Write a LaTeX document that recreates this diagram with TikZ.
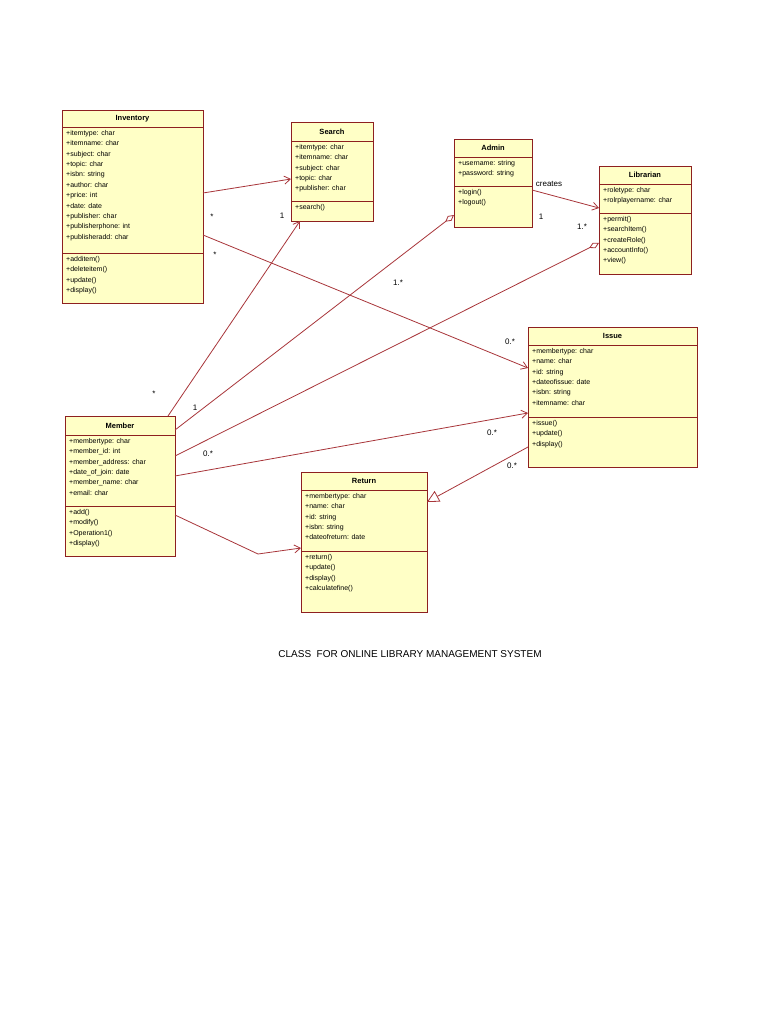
\documentclass[tikz,border=0pt]{standalone}
\usepackage{fontspec}
\setmainfont{Liberation Sans}
\usetikzlibrary{arrows.meta}
\definecolor{boxfill}{HTML}{FFFFC6}
\definecolor{boxline}{HTML}{8E2020}
\definecolor{conn}{HTML}{A8353A}
\tikzset{
  cls/.style={draw=boxline,fill=boxfill,line width=0.9pt},
  sep/.style={draw=boxline,line width=0.9pt},
  ttl/.style={font=\fontsize{7.5}{9}\selectfont\bfseries,anchor=center},
  txt/.style={font=\fontsize{7}{10.4}\selectfont,anchor=north west,align=left,inner sep=0pt},
  lbl/.style={font=\fontsize{8}{9}\selectfont,inner sep=0pt},
  assoc/.style={draw=conn,line width=0.8pt,-{Straight Barb[length=6pt,width=8pt]}},
  aggr/.style={draw=conn,line width=0.8pt,-{Diamond[open,length=11pt,width=6pt,fill=white]}},
  gen/.style={draw=conn,line width=0.8pt,-{Triangle[open,length=12pt,width=12pt,fill=white]}}
}
\newcommand{\umlbox}[8]{% name, x1,y1,x2,y2, ytitle, yattr, title
  \path[cls] (#2,#3) rectangle (#4,#5);
  \draw[sep] (#2,#6) -- (#4,#6);
  \draw[sep] (#2,#7) -- (#4,#7);
  \node[ttl] (#1) at ({(#2+#4)/2},{(#3+#6)/2}) {#8};
  \coordinate (#1-a) at (#2+4,#6+3);
  \coordinate (#1-m) at (#2+4,#7+3);
}
\begin{document}
\begin{tikzpicture}[x=1pt,y=-1pt]
\useasboundingbox[fill=white] (0,0) rectangle (768,1024);

\umlbox{inv}{62}{110}{203}{303}{127}{253}{Inventory}
\node[txt] at (inv-a) {+itemtype: char\\+itemname: char\\+subject: char\\+topic: char\\+isbn: string\\+author: char\\+price: int\\+date: date\\+publisher: char\\+publisherphone: int\\+publisheradd: char};
\node[txt] at (inv-m) {+additem()\\+deleteitem()\\+update()\\+display()};

\umlbox{sea}{291}{122}{373}{221}{141}{201}{Search}
\node[txt] at (sea-a) {+itemtype: char\\+itemname: char\\+subject: char\\+topic: char\\+publisher: char};
\node[txt] at (sea-m) {+search()};

\umlbox{adm}{454}{139}{532}{227}{157}{186}{Admin}
\node[txt] at (adm-a) {+username: string\\+password: string};
\node[txt] at (adm-m) {+login()\\+logout()};

\umlbox{lib}{599}{166}{691}{274}{184}{213}{Librarian}
\node[txt] at (lib-a) {+roletype: char\\+rolrplayername: char};
\node[txt] at (lib-m) {+permit()\\+searchItem()\\+createRole()\\+accountInfo()\\+view()};

\umlbox{iss}{528}{327}{697}{467}{345}{417}{Issue}
\node[txt] at (iss-a) {+membertype: char\\+name: char\\+id: string\\+dateofissue: date\\+isbn: string\\+itemname: char};
\node[txt] at (iss-m) {+issue()\\+update()\\+display()};

\umlbox{mem}{65}{416}{175}{556}{435}{506}{Member}
\node[txt] at (mem-a) {+membertype: char\\+member\_id: int\\+member\_address: char\\+date\_of\_join: date\\+member\_name: char\\+email: char};
\node[txt] at (mem-m) {+add()\\+modify()\\+Operation1()\\+display()};

\umlbox{ret}{301}{472}{427}{612}{490}{551}{Return}
\node[txt] at (ret-a) {+membertype: char\\+name: char\\+id: string\\+isbn: string\\+dateofreturn: date};
\node[txt] at (ret-m) {+return()\\+update()\\+display()\\+calculatefine()};

% connection points
\coordinate (invA) at (203,193); \coordinate (seaA) at (291,179);
\coordinate (invB) at (203,235); \coordinate (issA) at (528,368);
\coordinate (memT) at (168,416); \coordinate (seaB) at (300,221);
\coordinate (memA) at (175,430); \coordinate (admA) at (454,215);
\coordinate (memB) at (175,456); \coordinate (libA) at (599,243);
\coordinate (memC) at (175,476); \coordinate (issB) at (528,413);
\coordinate (memD) at (175,515); \coordinate (bend) at (258,554); \coordinate (retA) at (301,548);
\coordinate (issC) at (528,447); \coordinate (retB) at (427,502);
\coordinate (admB) at (532,190); \coordinate (libB) at (599,208);

\draw[assoc] (invA) -- (seaA);
\draw[assoc] (invB) -- (issA);
\draw[assoc] (memT) -- (seaB);
\draw[aggr] (memA) -- (admA);
\draw[aggr] (memB) -- (libA);
\draw[assoc] (memC) -- (issB);
\draw[assoc] (memD) -- (bend) -- (retA);
\draw[gen] (issC) -- (retB);
\draw[assoc] (admB) -- (libB);

\node[lbl] (l1) at (212,217) {*};
\node[lbl] (l2) at (215,255) {*};
\node[lbl] (l3) at (510,342) {0.*};
\node[lbl] (l4) at (154,394) {*};
\node[lbl] (l5) at (195,408) {1};
\node[lbl] (l6) at (282,216) {1};
\node[lbl] (l7) at (398,283) {1.*};
\node[lbl] (l8) at (208,454) {0.*};
\node[lbl] (l9) at (582,227) {1.*};
\node[lbl] (l10) at (492,433) {0.*};
\node[lbl] (l11) at (512,466) {0.*};
\node[lbl] (l12) at (549,184) {creates};
\node[lbl] (l13) at (541,217) {1};

\node[font=\fontsize{10}{12}\selectfont] (cap) at (410,654) {CLASS\ \ FOR ONLINE LIBRARY MANAGEMENT SYSTEM};
\end{tikzpicture}
\end{document}
